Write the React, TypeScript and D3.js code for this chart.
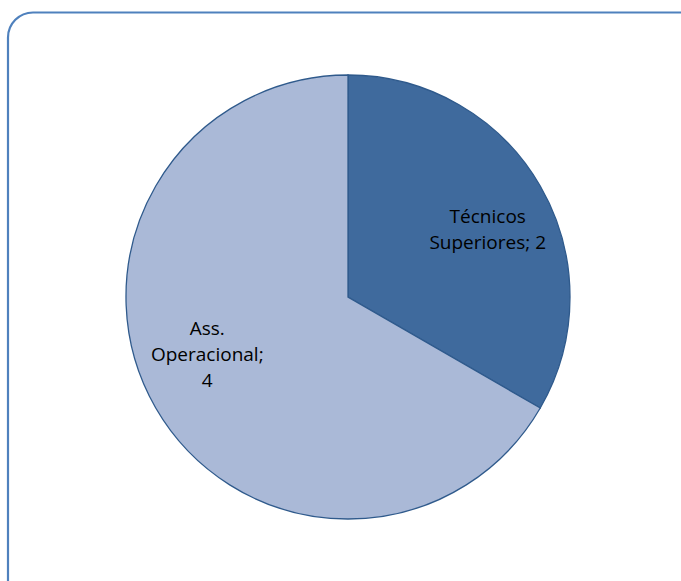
import React from "react";
import * as d3 from "d3";

const categories = ["Técnicos Superiores", "Ass. Operacional"];
const values = [2, 4];
const labelLines = [["Técnicos", "Superiores; 2"], ["Ass.", "Operacional;", "4"]];
const colors = ["#3F6A9D", "#AAB9D7"];

export default function App() {
  const W = 681, H = 581;
  const cx = 348, cy = 297, r = 222;
  const pie = d3.pie<number>().sort(null).value((d) => d)(values);
  const arc = d3.arc<d3.PieArcDatum<number>>().innerRadius(0).outerRadius(r);
  const labelArc = d3.arc<d3.PieArcDatum<number>>().innerRadius(r * 0.68).outerRadius(r * 0.68);
  const nudge = [[9, 8], [-10, -17]];
  const lh = 26;
  return (
    <svg width={W} height={H} style={{ position: "absolute", left: 0, top: 0 }}>
      <rect x={0} y={0} width={W} height={H} fill="#fff" />
      <rect x={8} y={12.5} width={700} height={600} rx={25} ry={25} fill="#fff" stroke="#4F81BD" strokeWidth={2.2} />
      <g transform={`translate(${cx},${cy})`}>
        {pie.map((p, i) => (
          <path key={categories[i]} d={arc(p) || ""} fill={colors[i]} stroke="#2F5A8C" strokeWidth={1.3} />
        ))}
        {pie.map((p, i) => {
          const [cx0, cy0] = labelArc.centroid(p);
          const lx = cx0 + nudge[i][0];
          const ly = cy0 + nudge[i][1];
          const lines = labelLines[i];
          const y0 = ly - ((lines.length - 1) * lh) / 2;
          return (
            <text key={"l" + i} textAnchor="middle" fontFamily="'Open Sans', 'Noto Sans', sans-serif" fontSize={19} fill="#000">
              {lines.map((t, j) => (
                <tspan key={j} x={lx} y={y0 + j * lh + 6}>{t}</tspan>
              ))}
            </text>
          );
        })}
      </g>
    </svg>
  );
}
